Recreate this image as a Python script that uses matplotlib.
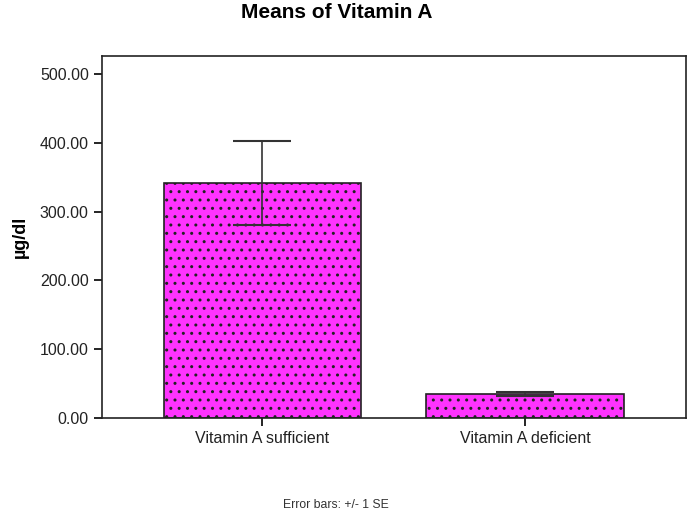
import matplotlib.pyplot as plt
import numpy as np

categories = ["Vitamin A sufficient", "Vitamin A deficient"]
means = [342.0, 35.0]
se = [61.0, 3.0]
yticks = [0, 100, 200, 300, 400, 500]

plt.rcParams['font.family'] = ['Liberation Sans', 'DejaVu Sans']
plt.rcParams['hatch.color'] = '#6a1a7a'
plt.rcParams['hatch.linewidth'] = 1.0

fig = plt.figure(figsize=(6.91, 5.18), dpi=100)
ax = fig.add_axes([0.1476, 0.193, 0.8454, 0.699])

x = np.arange(len(categories))
ax.bar(x, means, width=0.75, color='#ff33ff', edgecolor='#222222', linewidth=1.2, hatch='..')
ax.errorbar(x, means, yerr=se, fmt='none', ecolor='#333333', elinewidth=1.2, capsize=21, capthick=1.5)

ax.set_xlim(-0.609, 1.613)
ax.set_ylim(0, 526)
ax.set_yticks(yticks)
ax.set_yticklabels(["%.2f" % v for v in yticks], fontsize=11.5, color='#222222')
ax.set_xticks(x)
ax.set_xticklabels(categories, fontsize=11.5, color='#222222')
ax.tick_params(length=6, width=1.2)
for s in ax.spines.values():
    s.set_linewidth(1.2)
    s.set_color('#222222')

ax.set_ylabel("µg/dl", fontsize=13, fontweight='bold', labelpad=8)
fig.text(0.487, 0.975, "Means of Vitamin A", ha='center', va='center', fontsize=15, fontweight='bold')
fig.text(0.486, 0.026, "Error bars: +/- 1 SE", ha='center', va='center', fontsize=8.8, color='#333333')

fig.savefig("out.png", dpi=100)
